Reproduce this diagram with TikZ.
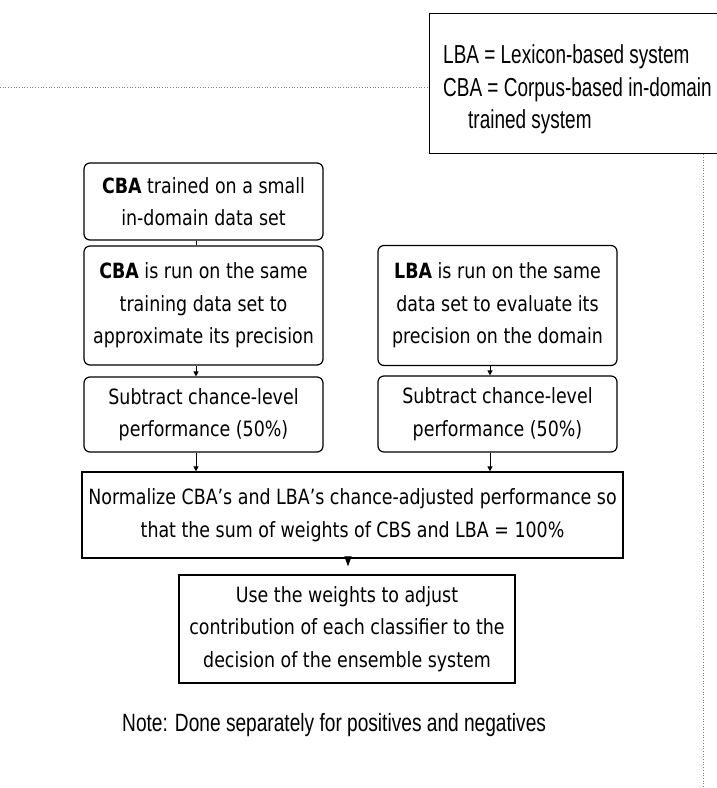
\documentclass[tikz,border=0pt]{standalone}
\usepackage{fontspec}
\usetikzlibrary{arrows.meta}
\newfontfamily\boxfont[FakeStretch=0.83]{DejaVu Sans}
\newfontfamily\legfont[FakeStretch=0.73]{Liberation Sans}
\newfontfamily\notefont[FakeStretch=0.765]{Liberation Sans}
\begin{document}
\begin{tikzpicture}[x=1pt,y=-1pt,
  rbox/.style={draw=black,line width=1.2pt,rounded corners=6pt,inner sep=0pt,
    minimum width=239pt,align=center,font=\boxfont\fontsize{21}{32.5}\selectfont},
  sbox/.style={draw=black,line width=1.2pt,inner sep=0pt,align=center,
    font=\boxfont\fontsize{21}{32.5}\selectfont},
  legtext/.style={anchor=base west,inner sep=0pt,font=\legfont\fontsize{26}{30}\selectfont},
  conn/.style={draw=black,line width=1pt},
  arr/.style={conn,-{Triangle[length=5pt,width=5pt]}},
  bigarr/.style={conn,-{Triangle[length=10pt,width=7pt]}},
  dotline/.style={draw=gray,dotted,line width=0.7pt}]
\useasboundingbox (0,0) rectangle (717,788);
\fill[white] (0,0) rectangle (717,788);

% legend
\node[draw=black,line width=1.2pt,minimum width=300pt,minimum height=140pt,inner sep=0pt,anchor=north west] (leg) at (429,13) {};
\node[legtext] (l1) at (443,63) {LBA = Lexicon-based system};
\node[legtext] (l2) at (443,96) {CBA = Corpus-based in-domain};
\node[legtext] (l3) at (468,128) {trained system};
\coordinate (hstart) at (0,87);
\coordinate (vend) at (703,788);
\draw[dotline] (hstart) -- (hstart -| leg.west);
\draw[dotline] (leg.south -| vend) -- (vend);

% boxes
\node[rbox,minimum height=77pt] (b1) at (203.5,201.5) {{\bfseries CBA} trained on a small\\in-domain data set};
\node[rbox,minimum height=119pt] (b2) at (203.5,305.5) {{\bfseries CBA} is run on the same\\training data set to\\approximate its precision};
\node[rbox,minimum height=120pt] (b3) at (497.5,305.5) {{\bfseries LBA} is run on the same\\data set to evaluate its\\precision on the domain};
\node[rbox,minimum height=75pt] (b4) at (203.5,414.5) {Subtract chance-level\\performance (50\%)};
\node[rbox,minimum height=76pt] (b5) at (497.5,414) {Subtract chance-level\\performance (50\%)};
\node[sbox,minimum width=541pt,minimum height=86pt] (b6) at (352.5,515) {Normalize CBA’s and LBA’s chance-adjusted performance so\\that the sum of weights of CBS and LBA = 100\%};
\node[sbox,minimum width=336pt,minimum height=108pt] (b7) at (347,629) {Use the weights to adjust\\contribution of each classifier to the\\decision of the ensemble system};

\node[anchor=base west,inner sep=0pt,font=\notefont\fontsize{25}{30}\selectfont] (note) at (122,731) {Note: Done separately for positives and negatives};

% connectors
\coordinate (lx) at (196,0);
\coordinate (rx) at (490,0);
\coordinate (mx) at (348,0);
\draw[conn] (b1.south -| lx) -- (b2.north -| lx);
\draw[arr] (b2.south -| lx) -- (b4.north -| lx);
\draw[arr] (b3.south -| rx) -- (b5.north -| rx);
\draw[arr] (b4.south -| lx) -- (b6.north -| lx);
\draw[arr] (b5.south -| rx) -- (b6.north -| rx);
\draw[bigarr] (b6.south -| mx) -- ([yshift=8pt]b7.north -| mx);
\end{tikzpicture}
\end{document}
